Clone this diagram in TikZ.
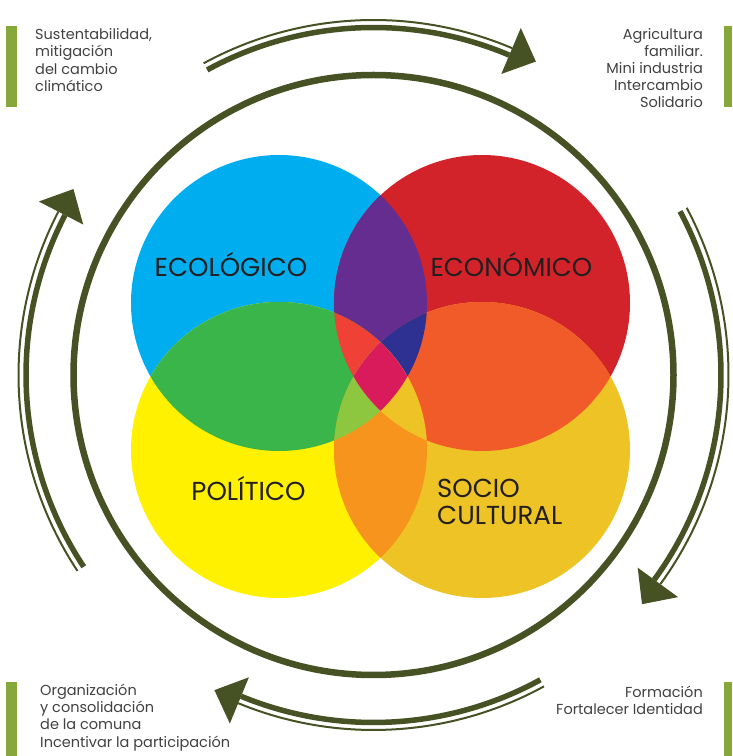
\documentclass[tikz,border=0pt]{standalone}
\usepackage{fontspec}
\setmainfont{Poppins}

\definecolor{ecoblue}{HTML}{00AEEF}
\definecolor{econred}{HTML}{D2232A}
\definecolor{polyellow}{HTML}{FFF100}
\definecolor{socgold}{HTML}{EDC325}
\definecolor{lensviolet}{HTML}{662D91}
\definecolor{lensgreen}{HTML}{39B54A}
\definecolor{lensorangered}{HTML}{F15A29}
\definecolor{lensorange}{HTML}{F7941D}
\definecolor{trired}{HTML}{EF4136}
\definecolor{trinavy}{HTML}{2E3192}
\definecolor{trilime}{HTML}{8DC63F}
\definecolor{trigold}{HTML}{EDC325}
\definecolor{quadpink}{HTML}{D91B5C}
\definecolor{darkolive}{HTML}{475224}
\definecolor{barolive}{HTML}{88A73A}
\definecolor{labelgray}{HTML}{231F20}
\definecolor{notegray}{HTML}{414042}

\tikzset{
  ring/.style={draw=darkolive,line width=6.5pt},
  cyclethick/.style={draw=darkolive,line width=5.5pt},
  cyclethin/.style={draw=darkolive,line width=2pt},
  cyclehead/.style={fill=darkolive},
  bar/.style={fill=barolive},
  dimlabel/.style={text=labelgray,inner sep=0pt,font=\fontsize{26}{27}\selectfont},
  note/.style={text=notegray,inner sep=0pt,font=\fontsize{14.5}{17.2}\selectfont}
}

\begin{document}
\begin{tikzpicture}[x=1pt,y=1pt]
\useasboundingbox (0,0) rectangle (732,756);
\def\R{148}
\coordinate (C) at (373.5,381);
\coordinate (Eco) at (279,453);
\coordinate (Econ) at (482,453);
\coordinate (Pol) at (279,306);
\coordinate (Soc) at (482,306);
% the four dimensions
\fill[ecoblue] (Eco) circle[radius=\R];
\fill[econred] (Econ) circle[radius=\R];
\fill[polyellow] (Pol) circle[radius=\R];
\fill[socgold] (Soc) circle[radius=\R];
% overlaps of two
\begin{scope}
\clip (Eco) circle[radius=\R];
\fill[lensviolet] (Econ) circle[radius=\R];
\fill[lensgreen] (Pol) circle[radius=\R];
\end{scope}
\begin{scope}
\clip (Soc) circle[radius=\R];
\fill[lensorangered] (Econ) circle[radius=\R];
\fill[lensorange] (Pol) circle[radius=\R];
\end{scope}
% overlaps of three
\begin{scope}
\clip (Eco) circle[radius=\R];
\clip (Econ) circle[radius=\R];
\fill[trired] (Pol) circle[radius=\R];
\fill[trinavy] (Soc) circle[radius=\R];
\end{scope}
\begin{scope}
\clip (Pol) circle[radius=\R];
\clip (Soc) circle[radius=\R];
\fill[trilime] (Eco) circle[radius=\R];
\fill[trigold] (Econ) circle[radius=\R];
\end{scope}
% all four
\begin{scope}
\clip (Eco) circle[radius=\R];
\clip (Econ) circle[radius=\R];
\clip (Pol) circle[radius=\R];
\fill[quadpink] (Soc) circle[radius=\R];
\end{scope}
\node[dimlabel] (ecolbl) at (231,491) {ECOLÓGICO};
\node[dimlabel] (econlbl) at (511.5,491) {ECONÓMICO};
\node[dimlabel] (pollbl) at (248.5,267) {POLÍTICO};
\node[dimlabel,anchor=west,align=left] (soclbl) at (437,254.5) {SOCIO\\CULTURAL};
% ring and cycle arrows
\draw[ring] (C) circle[radius=300];
\draw[cyclethick] (C) ++(118.6:347.5) arc[start angle=118.6,end angle=67,radius=347.5];
\draw[cyclethin] (C) ++(118.6:355) arc[start angle=118.6,end angle=67,radius=355];
\fill[cyclehead,shift={(C)},rotate=67] (327,0) -- (377,0) -- (352,-27) -- cycle;
\draw[cyclethick] (C) ++(28.1:347.5) arc[start angle=28.1,end angle=-36.1,radius=347.5];
\draw[cyclethin] (C) ++(28.1:355) arc[start angle=28.1,end angle=-36.1,radius=355];
\fill[cyclehead,shift={(C)},rotate=-36.1] (327,0) -- (377,0) -- (352,-27) -- cycle;
\draw[cyclethick] (C) ++(-61.3:347.5) arc[start angle=-61.3,end angle=-112.4,radius=347.5];
\draw[cyclethin] (C) ++(-61.3:355) arc[start angle=-61.3,end angle=-112.4,radius=355];
\fill[cyclehead,shift={(C)},rotate=-112.4] (327,0) -- (377,0) -- (352,-27) -- cycle;
\draw[cyclethick] (C) ++(213.5:347.5) arc[start angle=213.5,end angle=152.6,radius=347.5];
\draw[cyclethin] (C) ++(213.5:355) arc[start angle=213.5,end angle=152.6,radius=355];
\fill[cyclehead,shift={(C)},rotate=152.6] (327,0) -- (377,0) -- (352,-27) -- cycle;
% corner notes
\fill[bar] (6,649) rectangle (17,730);
\fill[bar] (724,649) rectangle (732,730);
\fill[bar] (6,0) rectangle (17,74);
\fill[bar] (724,0) rectangle (732,74);
\node[note,anchor=west,align=left] (notetl) at (35,696) {Sustentabilidad,\\mitigación\\del cambio\\climático};
\node[note,anchor=east,align=right] (notetr) at (703,688) {Agricultura\\familiar.\\Mini industria\\Intercambio\\Solidario};
\node[note,anchor=west,align=left] (notebl) at (40,38.5) {Organización\\y consolidación\\de la comuna\\Incentivar la participación};
\node[note,anchor=east,align=right] (notebr) at (703,55.5) {Formación\\Fortalecer Identidad};
\end{tikzpicture}
\end{document}
